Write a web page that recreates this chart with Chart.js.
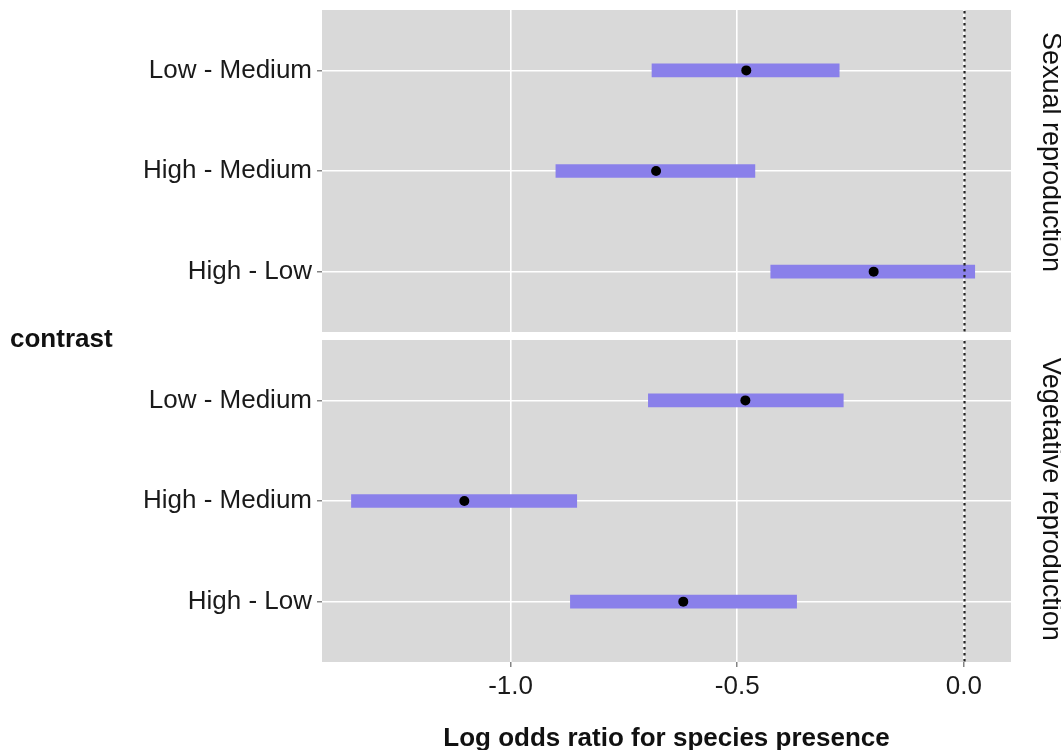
<!DOCTYPE html>
<html>
<head>
<meta charset="utf-8">
<script src="https://cdn.jsdelivr.net/npm/chart.js@4.4.1/dist/chart.umd.min.js"></script>
<style>
  html, body { margin: 0; padding: 0; background: #ffffff; }
  #wrap { position: relative; width: 1061px; height: 750px; }
  canvas { position: absolute; left: 0; top: 0; }
</style>
</head>
<body>
<div id="wrap">
  <canvas id="vegetative" width="1061" height="750"></canvas>
  <canvas id="sexual" width="1061" height="750"></canvas>
</div>
<script>
// Pairwise contrasts of light level, listed top to bottom in each panel
const contrasts = ['Low - Medium', 'High - Medium', 'High - Low'];

// Sexual reproduction: estimate and interval bounds (log odds ratio)
const sexualEstimate = [-0.480, -0.679, -0.199];
const sexualLower    = [-0.688, -0.900, -0.426];
const sexualUpper    = [-0.275, -0.461,  0.024];

// Vegetative reproduction: estimate and interval bounds (log odds ratio)
const vegetativeEstimate = [-0.482, -1.102, -0.619];
const vegetativeLower    = [-0.696, -1.351, -0.868];
const vegetativeUpper    = [-0.266, -0.854, -0.369];

// Axis ticks and range
const xTickValues = [-1.0, -0.5, 0.0];
const xMin = -1.416;
const xMax = 0.104;
const referenceValue = 0;

const panelTitles = ['Sexual reproduction', 'Vegetative reproduction'];
const yAxisTitle = 'contrast';
const xAxisTitle = 'Log odds ratio for species presence';

const FONT = "'Liberation Sans', Arial, Helvetica, sans-serif";
const PANEL_BG = '#d9d9d9';
const BAR_COLOR = 'rgb(138, 128, 234)';

function makePanel(canvasId, estimate, lower, upper, cfg) {
  const bars = contrasts.map((c, i) => ({ x: [lower[i], upper[i]], y: i + 1 }));
  const points = contrasts.map((c, i) => ({ x: estimate[i], y: i + 1 }));

  const panelPlugin = {
    id: 'panelDecor_' + canvasId,
    beforeDraw(chart) {
      const { ctx, chartArea: a } = chart;
      ctx.save();
      ctx.fillStyle = PANEL_BG;
      ctx.fillRect(a.left, a.top, a.right - a.left, a.bottom - a.top);
      ctx.restore();
    },
    afterDatasetsDraw(chart) {
      const { ctx, chartArea: a } = chart;
      const x = Math.round(chart.scales.x.getPixelForValue(referenceValue)) + 0.5;
      ctx.save();
      ctx.strokeStyle = '#222222';
      ctx.lineWidth = 2.2;
      ctx.setLineDash([2.5, 3.5]);
      ctx.beginPath();
      ctx.moveTo(x, a.top + 1);
      ctx.lineTo(x, a.bottom);
      ctx.stroke();
      ctx.restore();
    },
    afterDraw(chart) {
      const { ctx } = chart;
      ctx.save();
      ctx.fillStyle = '#111111';
      ctx.font = '27px ' + FONT;
      ctx.textAlign = 'center';
      ctx.textBaseline = 'middle';
      ctx.translate(1050, cfg.stripY);
      ctx.rotate(Math.PI / 2);
      ctx.fillText(cfg.strip, 0, 0);
      ctx.restore();
      if (cfg.yTitle) {
        ctx.save();
        ctx.fillStyle = '#111111';
        ctx.font = 'bold 26px ' + FONT;
        ctx.textAlign = 'left';
        ctx.textBaseline = 'middle';
        ctx.fillText(yAxisTitle, 10, 340);
        ctx.restore();
      }
    }
  };

  return new Chart(document.getElementById(canvasId), {
    data: {
      datasets: [
        {
          type: 'scatter',
          data: points,
          order: 1,
          pointRadius: 5,
          pointHoverRadius: 5,
          pointBackgroundColor: '#000000',
          pointBorderWidth: 0
        },
        {
          type: 'bar',
          data: bars,
          order: 2,
          backgroundColor: BAR_COLOR,
          borderWidth: 0,
          barThickness: 13
        }
      ]
    },
    options: {
      indexAxis: 'y',
      responsive: false,
      animation: false,
      events: [],
      layout: { padding: { left: 0, right: 50, top: cfg.top, bottom: cfg.bottom } },
      plugins: { legend: { display: false }, tooltip: { enabled: false } },
      scales: {
        x: {
          type: 'linear',
          position: 'bottom',
          min: xMin,
          max: xMax,
          offset: false,
          afterBuildTicks(scale) { scale.ticks = xTickValues.map(v => ({ value: v })); },
          afterFit(scale) {
            scale.height = cfg.xHeight;
            scale.paddingLeft = 0;
            scale.paddingRight = 0;
          },
          border: { display: false },
          grid: {
            offset: false,
            color: '#ffffff',
            lineWidth: 1.6,
            drawTicks: cfg.showX,
            tickLength: 5,
            tickColor: '#666666',
            tickWidth: 1.2
          },
          ticks: {
            display: cfg.showX,
            padding: 4,
            color: '#1a1a1a',
            font: { family: FONT, size: 26 },
            maxRotation: 0,
            callback: v => v.toFixed(1)
          },
          title: {
            display: cfg.showX,
            text: xAxisTitle,
            color: '#111111',
            font: { family: FONT, size: 26, weight: 'bold' },
            padding: { top: 0, bottom: -4 }
          }
        },
        y: {
          type: 'linear',
          position: 'left',
          min: 0.4,
          max: contrasts.length + 0.6,
          reverse: true,
          offset: false,
          afterBuildTicks(scale) { scale.ticks = contrasts.map((c, i) => ({ value: i + 1 })); },
          afterFit(scale) {
            scale.width = 322;
            scale.paddingTop = 0;
            scale.paddingBottom = 0;
          },
          border: { display: false },
          grid: {
            offset: false,
            color: '#ffffff',
            lineWidth: 1.6,
            drawTicks: true,
            tickLength: 5,
            tickColor: '#666666',
            tickWidth: 1.2
          },
          ticks: {
            padding: 5,
            color: '#1a1a1a',
            font: { family: FONT, size: 26 },
            callback: v => contrasts[Math.round(v) - 1]
          }
        }
      }
    },
    plugins: [panelPlugin]
  });
}

// Lower panel (drawn first, underneath) carries the shared x axis and the y title
makePanel('vegetative', vegetativeEstimate, vegetativeLower, vegetativeUpper, {
  top: 340, bottom: 0, xHeight: 88, showX: true,
  strip: panelTitles[1], stripY: 499, yTitle: true
});

// Upper panel on a transparent overlay
makePanel('sexual', sexualEstimate, sexualLower, sexualUpper, {
  top: 10, bottom: 418, xHeight: 0, showX: false,
  strip: panelTitles[0], stripY: 152, yTitle: false
});
</script>
</body>
</html>
